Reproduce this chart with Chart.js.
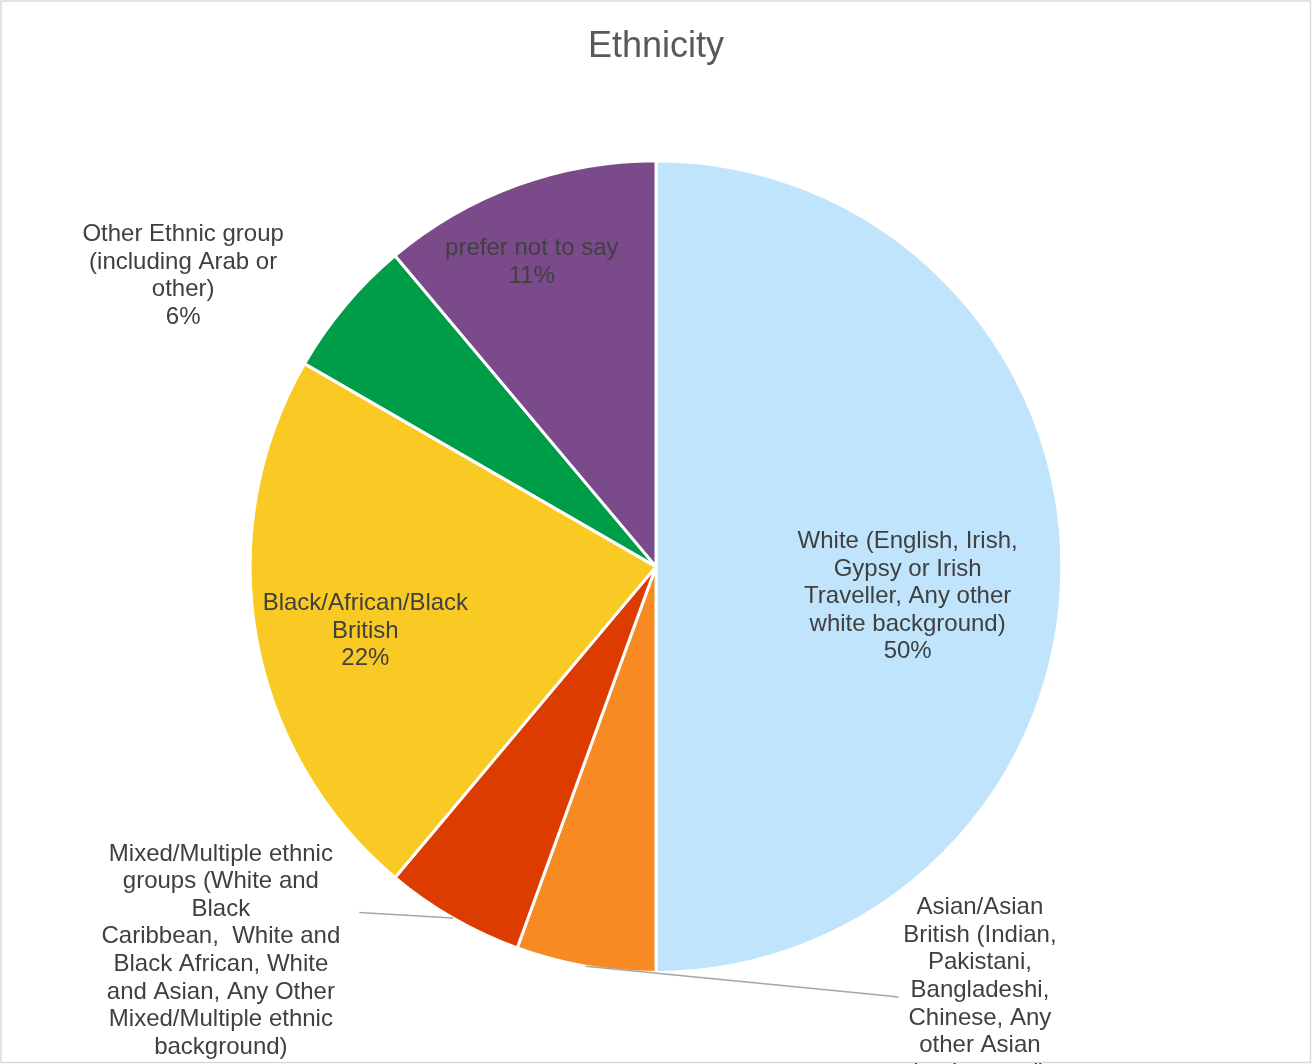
<!DOCTYPE html>
<html>
<head>
<meta charset="utf-8">
<title>Ethnicity</title>
<script src="https://cdn.jsdelivr.net/npm/chart.js@4.4.1/dist/chart.umd.min.js"></script>
<style>
  html, body { margin: 0; padding: 0; background: #ffffff; }
  #wrap { width: 1312px; height: 1064px; }
</style>
</head>
<body>
<div id="wrap"><canvas id="pie" width="1312" height="1064"></canvas></div>
<script>
// data (counts out of 18 responses)
const categories = [
  'White (English, Irish, Gypsy or Irish Traveller, Any other white background)',
  'Asian/Asian British (Indian, Pakistani, Bangladeshi, Chinese, Any other Asian background)',
  'Mixed/Multiple ethnic groups (White and Black Caribbean,  White and Black African, White and Asian, Any Other Mixed/Multiple ethnic background)',
  'Black/African/Black British',
  'Other Ethnic group (including Arab or other)',
  'prefer not to say'
];
const counts = [9, 1, 1, 4, 1, 2];

// how the labels wrap in the original
const labelLines = [
  ['White (English, Irish,', 'Gypsy or Irish', 'Traveller, Any other', 'white background)'],
  ['Asian/Asian', 'British (Indian,', 'Pakistani,', 'Bangladeshi,', 'Chinese, Any', 'other Asian', 'background)'],
  ['Mixed/Multiple ethnic', 'groups (White and', 'Black', 'Caribbean,  White and', 'Black African, White', 'and Asian, Any Other', 'Mixed/Multiple ethnic', 'background)'],
  ['Black/African/Black', 'British'],
  ['Other Ethnic group', '(including Arab or', 'other)'],
  ['prefer not to say']
];

const sliceColors = ['#BFE4FC', '#F78A22', '#DD3C00', '#F9CA24', '#009D48', '#7A4A8A'];

// label placement, as offsets from the pie centre in units of the radius
// (x of the text centre, y of the first line); leader = elbow point for outside labels
const labelPlace = [
  { dx: 0.620, dy: -0.062 },
  { dx: 0.798, dy: 0.840, leader: [[0.575, 1.058], [0.597, 1.061]] },
  { dx: -1.072, dy: 0.708, leader: [[-0.731, 0.852]] },
  { dx: -0.716, dy: 0.091 },
  { dx: -1.165, dy: -0.818 },
  { dx: -0.306, dy: -0.783 }
];

const total = counts.reduce((a, b) => a + b, 0);
const LINE_H = 27.6;

const pieLabels = {
  id: 'pieLabels',
  beforeDraw(chart) {
    const ctx = chart.ctx;
    ctx.save();
    ctx.fillStyle = '#ffffff';
    ctx.fillRect(0, 0, chart.width, chart.height);
    ctx.strokeStyle = '#D9D9D9';
    ctx.lineWidth = 1.5;
    ctx.strokeRect(1, 1, chart.width - 2.5, chart.height - 2.5);
    ctx.restore();
  },
  afterDatasetsDraw(chart) {
    const ctx = chart.ctx;
    const arcs = chart.getDatasetMeta(0).data;
    ctx.save();
    ctx.font = '24px "Liberation Sans", Arial, sans-serif';
    ctx.textAlign = 'center';
    ctx.textBaseline = 'middle';
    arcs.forEach((arc, i) => {
      const { x, y, outerRadius: r, startAngle, endAngle } = arc.getProps(['x', 'y', 'outerRadius', 'startAngle', 'endAngle'], true);
      const place = labelPlace[i];
      if (place.leader) {
        const mid = (startAngle + endAngle) / 2;
        ctx.strokeStyle = '#A6A6A6';
        ctx.lineWidth = 1.5;
        ctx.beginPath();
        ctx.moveTo(x + Math.cos(mid) * r, y + Math.sin(mid) * r);
        place.leader.forEach(p => ctx.lineTo(x + p[0] * r, y + p[1] * r));
        ctx.stroke();
      }
      const pct = Math.round(counts[i] / total * 100) + '%';
      const lines = labelLines[i].concat([pct]);
      const tx = x + place.dx * r;
      const ty = y + place.dy * r;
      ctx.fillStyle = '#404040';
      lines.forEach((t, k) => ctx.fillText(t, tx, ty + k * LINE_H));
    });
    ctx.restore();
  }
};

new Chart(document.getElementById('pie'), {
  type: 'pie',
  data: {
    labels: categories,
    datasets: [{
      data: counts,
      backgroundColor: sliceColors,
      borderColor: '#ffffff',
      borderWidth: 3
    }]
  },
  options: {
    responsive: false,
    animation: false,
    layout: { padding: { top: 0, bottom: 90, left: 0, right: 0 } },
    plugins: {
      legend: { display: false },
      tooltip: { enabled: false },
      title: {
        display: true,
        text: 'Ethnicity',
        color: '#595959',
        font: { family: '"Liberation Sans", Arial, sans-serif', size: 36, weight: 'normal' },
        padding: { top: 25, bottom: 91 }
      }
    }
  },
  plugins: [pieLabels]
});
</script>
</body>
</html>
